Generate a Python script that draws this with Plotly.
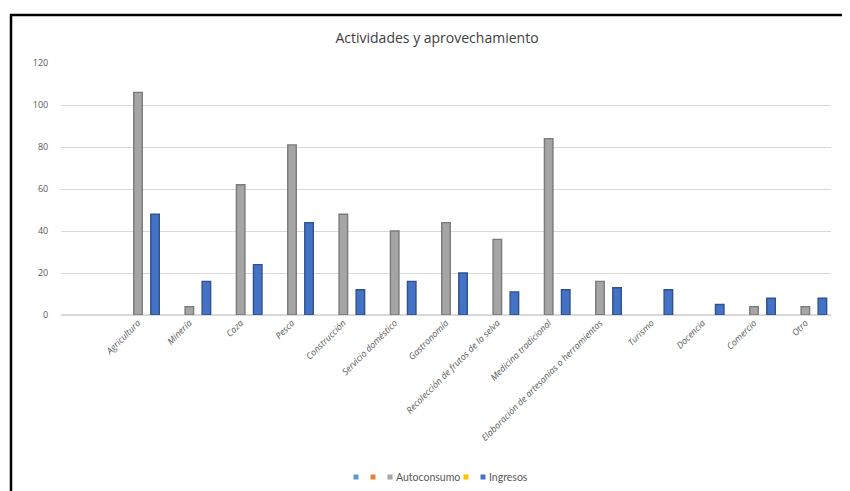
import plotly.graph_objects as go

categories = ["Agricultura", "Minería", "Caza", "Pesca", "Construcción",
              "Servicio doméstico", "Gastronomía", "Recolección de frutos de la selva",
              "Medicina tradicional", "Elaboración de artesanías o herramientas",
              "Turismo", "Docencia", "Comercio", "Otro"]
serie1 = [None] * len(categories)
serie2 = [None] * len(categories)
autoconsumo = [106, 4, 62, 81, 48, 40, 44, 36, 84, 16, None, None, 4, 4]
serie4 = [None] * len(categories)
ingresos = [48, 16, 24, 44, 12, 16, 20, 11, 12, 13, 12, 5, 8, 8]
legend_names = ["", "", "Autoconsumo", "", "Ingresos"]

# page has an 8px body margin: work in screenshot coordinates and shift by it
OFF = 8
W, H = 850 - OFF, 491 - OFF
PL, PR, PT, PB = 61, 831, 63, 315          # plot area in screenshot px
L, R, T, B = PL - OFF, W - (PR - OFF), PT - OFF, H - (PB - OFF)
pw, ph = W - L - R, H - T - B


def px(x):
    return (x - OFF - L) / pw


def py(y):
    return (H - B - (y - OFF)) / ph


fig = go.Figure()
colors = ["#5B9BD5", "#ED7D31", "#A5A5A5", "#FFC000", "#4472C4"]
edges = ["#41719C", "#AE5A21", "#7A7A7A", "#BC8C00", "#2F528F"]
values = [serie1, serie2, autoconsumo, serie4, ingresos]
for name, vals, col, edge in zip(legend_names, values, colors, edges):
    fig.add_trace(go.Bar(x=categories, y=vals, name=name or " ", showlegend=False,
                         marker=dict(color=col, line=dict(color=edge, width=1.4))))

# legend drawn like the original (small squares, tight spacing)
shapes = [dict(type="path", xref="paper", yref="paper",
               path=f"M {px(11)} {py(491)} L {px(11)} {py(15)} L {px(850)} {py(15)}",
               line=dict(color="black", width=2.5))]
annotations = []
leg_x = [356, 373, 390, 466, 483]
leg_y = 477
for xc, col, name in zip(leg_x, colors, legend_names):
    shapes.append(dict(type="rect", xref="paper", yref="paper",
                       x0=px(xc - 2.5), x1=px(xc + 2.5), y0=py(leg_y + 2.5), y1=py(leg_y - 2.5),
                       fillcolor=col, line=dict(width=0)))
    if name:
        annotations.append(dict(text=name, xref="paper", yref="paper", x=px(xc + 4), y=py(leg_y),
                                xanchor="left", yanchor="middle", showarrow=False,
                                font=dict(size=10.5, color="#595959", family="Lato, sans-serif")))

fig.update_layout(
    width=W, height=H,
    margin=dict(l=L, r=R, t=T, b=B, autoexpand=False),
    paper_bgcolor="white", plot_bgcolor="white",
    barmode="group", bargap=0.17, bargroupgap=0,
    font=dict(family="Open Sans, sans-serif", color="#595959"),
    title=dict(text="Actividades y aprovechamiento", x=(437 - OFF) / W, y=1 - (38 - OFF) / H,
               xanchor="center", yanchor="middle",
               font=dict(size=14, color="#404040")),
    showlegend=False,
    shapes=shapes,
    annotations=annotations,
)
fig.update_xaxes(type="category", range=[-1.5, 13.5], showgrid=False, showline=False,
                 tickangle=-45, tickfont=dict(size=9, color="#595959", style="italic"), ticks="",
                 automargin=False)
fig.update_yaxes(range=[0, 120], dtick=20, showgrid=True, gridcolor="#D9D9D9", gridwidth=1,
                 zeroline=True, zerolinecolor="#D9D9D9", showline=False,
                 ticks="outside", ticklen=10, tickcolor="rgba(0,0,0,0)",
                 tickfont=dict(size=9, color="#595959"), automargin=False)

fig.write_html("out.html")
